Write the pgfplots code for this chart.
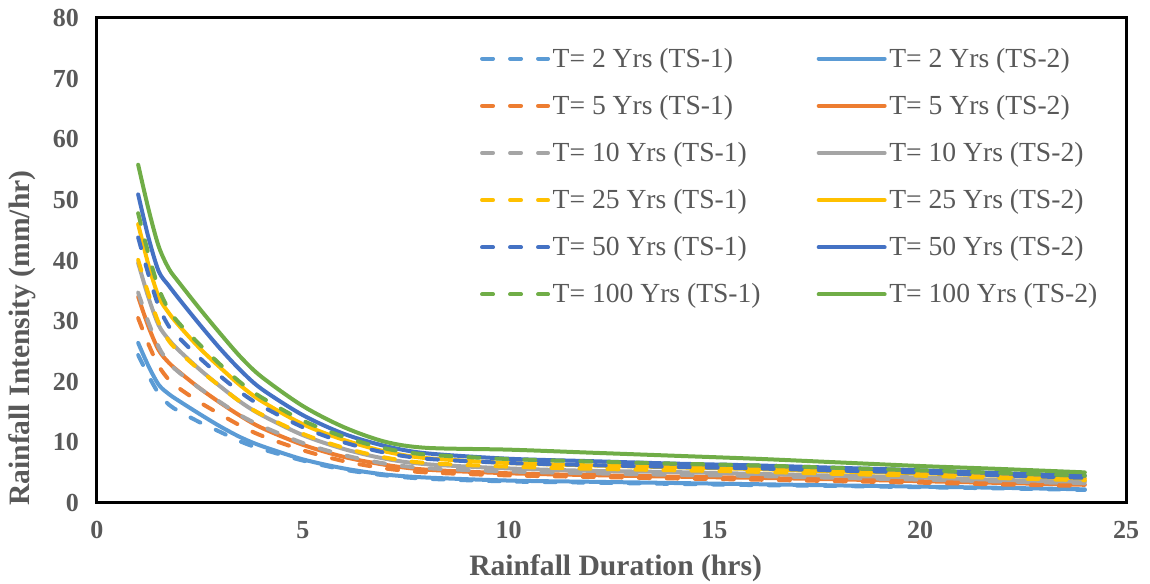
\documentclass[border=0pt]{standalone}
\usepackage{fontspec}
\setmainfont{Liberation Serif}
\usepackage{pgfplots}
\pgfplotsset{compat=1.18}

\definecolor{cA}{HTML}{5B9BD5}
\definecolor{cB}{HTML}{ED7D31}
\definecolor{cC}{HTML}{A5A5A5}
\definecolor{cD}{HTML}{FFC000}
\definecolor{cE}{HTML}{4472C4}
\definecolor{cF}{HTML}{70AD47}
\definecolor{txt}{HTML}{595959}

\begin{document}
\begin{tikzpicture}
\useasboundingbox (-72.75pt,-60.75pt) rectangle (789.75pt,377.25pt);
\begin{axis}[at={(0pt,0pt)},anchor=south west,
  width=771.75pt,height=363.75pt,scale only axis,
  axis lines=box,
  axis line style={line width=2.25pt,black},
  xmin=0,xmax=25,ymin=0,ymax=80,
  xtick={0,5,10,15,20,25},ytick={0,10,20,30,40,50,60,70,80},
  major tick length=0pt,
  /pgf/number format/assume math mode=true,
  ticklabel style={font=\fontsize{19.5}{22}\selectfont\bfseries,text=txt},
  yticklabel style={xshift=-10pt},
  xticklabel style={yshift=-10pt},
  xlabel={Rainfall Duration (hrs)},
  ylabel={Rainfall Intensity (mm/hr)},
  label style={font=\fontsize{22.2}{25}\selectfont\bfseries,text=txt},
  x label style={at={(axis description cs:0.504,-0.134)},anchor=center},
  y label style={at={(axis description cs:-0.0729,0.34)},anchor=center},
  every axis plot/.append style={line width=3pt,smooth,line cap=round,line join=round},
  legend columns=2,
  legend cell align=left,
  legend style={at={(rel axis cs:0.372,0.944)},anchor=north west,draw=none,fill=none,
    inner sep=0pt,font=\fontsize{20.7}{24}\selectfont,text=txt,row sep=15.5pt,
    /tikz/column 2/.style={column sep=40pt}},
  legend image code/.code={\draw[#1] (1.5pt,0pt) -- (51pt,0pt);},
  ]
\pgfplotsset{ts1/.style={dash pattern=on 8.25pt off 12.75pt}}
% T = 2
\addplot[cA,ts1] coordinates {(1,24.4)(1.25,21.0)(1.5,18.05)(1.75,16.2)(2,15.1)(2.5,13.3)(3,11.7)(3.5,10.1)(4,8.9)(5,7.0)(6,5.5)(7,4.55)(8,4.0)(10,3.55)(12,3.35)(14,3.15)(16,2.95)(18,2.8)(20,2.6)(22,2.4)(24,2.15)};
\addlegendentry{T= 2 Yrs (TS-1)}
\addplot[cA] coordinates {(1,26.4)(1.25,22.6)(1.5,19.5)(1.75,17.95)(2,16.8)(2.5,14.65)(3,12.6)(3.5,10.8)(4,9.4)(5,7.2)(6,5.7)(7,4.7)(8,4.2)(10,3.7)(12,3.5)(14,3.3)(16,3.1)(18,2.9)(20,2.7)(22,2.5)(24,2.25)};
\addlegendentry{T= 2 Yrs (TS-2)}
% T = 5
\addplot[cB,ts1] coordinates {(1,30.5)(1.25,26.2)(1.5,22.6)(1.75,20.3)(2,18.9)(2.5,16.6)(3,14.6)(3.5,12.7)(4,11.1)(5,8.7)(6,6.9)(7,5.7)(8,5.05)(10,4.55)(12,4.3)(14,4.05)(16,3.85)(18,3.6)(20,3.35)(22,3.05)(24,2.8)};
\addlegendentry{T= 5 Yrs (TS-1)}
\addplot[cB] coordinates {(1,34.0)(1.25,29.1)(1.5,25.2)(1.75,23.1)(2,21.6)(2.5,18.9)(3,16.5)(3.5,14.3)(4,12.4)(5,9.6)(6,7.6)(7,6.3)(8,5.5)(10,4.9)(12,4.6)(14,4.35)(16,4.15)(18,3.9)(20,3.6)(22,3.3)(24,3.0)};
\addlegendentry{T= 5 Yrs (TS-2)}
% T = 10
\addplot[cC,ts1] coordinates {(1,34.7)(1.25,29.8)(1.5,25.7)(1.75,23.1)(2,21.5)(2.5,18.9)(3,16.6)(3.5,14.4)(4,12.7)(5,9.9)(6,7.9)(7,6.5)(8,5.75)(10,5.2)(12,4.9)(14,4.65)(16,4.45)(18,4.15)(20,3.85)(22,3.55)(24,3.25)};
\addlegendentry{T= 10 Yrs (TS-1)}
\addplot[cC] coordinates {(1,39.6)(1.25,33.9)(1.5,29.3)(1.75,26.9)(2,25.1)(2.5,22.0)(3,19.2)(3.5,16.6)(4,14.5)(5,11.2)(6,8.9)(7,7.3)(8,6.4)(10,5.7)(12,5.3)(14,5.1)(16,4.8)(18,4.5)(20,4.2)(22,3.8)(24,3.5)};
\addlegendentry{T= 10 Yrs (TS-2)}
% T = 25
\addplot[cD,ts1] coordinates {(1,40.1)(1.25,34.5)(1.5,29.7)(1.75,26.7)(2,24.9)(2.5,21.9)(3,19.2)(3.5,16.6)(4,14.6)(5,11.4)(6,9.1)(7,7.5)(8,6.6)(10,6.0)(12,5.65)(14,5.4)(16,5.15)(18,4.8)(20,4.5)(22,4.1)(24,3.75)};
\addlegendentry{T= 25 Yrs (TS-1)}
\addplot[cD] coordinates {(1,46.0)(1.25,39.3)(1.5,34.0)(1.75,31.3)(2,29.2)(2.5,25.5)(3,22.3)(3.5,19.3)(4,16.8)(5,13.0)(6,10.4)(7,8.5)(8,7.4)(10,6.6)(12,6.2)(14,5.9)(16,5.6)(18,5.2)(20,4.9)(22,4.5)(24,4.05)};
\addlegendentry{T= 25 Yrs (TS-2)}
% T = 50
\addplot[cE,ts1] coordinates {(1,43.8)(1.25,37.7)(1.5,32.4)(1.75,29.1)(2,27.2)(2.5,23.9)(3,20.9)(3.5,18.2)(4,16.0)(5,12.5)(6,10.0)(7,8.3)(8,7.3)(10,6.6)(12,6.25)(14,5.95)(16,5.7)(18,5.35)(20,5.0)(22,4.55)(24,4.15)};
\addlegendentry{T= 50 Yrs (TS-1)}
\addplot[cE] coordinates {(1,50.9)(1.25,43.8)(1.5,38.2)(1.75,35.8)(2,33.6)(2.5,29.4)(3,25.4)(3.5,21.8)(4,18.8)(5,14.5)(6,11.4)(7,9.4)(8,8.2)(10,7.3)(12,6.9)(14,6.5)(16,6.2)(18,5.8)(20,5.4)(22,4.9)(24,4.5)};
\addlegendentry{T= 50 Yrs (TS-2)}
% T = 100
\addplot[cF,ts1] coordinates {(1,47.8)(1.25,41.1)(1.5,35.4)(1.75,31.8)(2,29.6)(2.5,26.1)(3,22.8)(3.5,19.8)(4,17.4)(5,13.6)(6,10.9)(7,9.0)(8,8.0)(10,7.25)(12,6.85)(14,6.5)(16,6.2)(18,5.8)(20,5.4)(22,4.95)(24,4.5)};
\addlegendentry{T= 100 Yrs (TS-1)}
\addplot[cF] coordinates {(1,55.8)(1.25,48.5)(1.5,42.3)(1.75,38.6)(2,36.3)(2.5,32.0)(3,27.9)(3.5,24.0)(4,20.8)(5,16.0)(6,12.5)(7,10.1)(8,9.1)(10,8.8)(12,8.3)(14,7.8)(16,7.3)(18,6.7)(20,6.1)(22,5.6)(24,5.05)};
\addlegendentry{T= 100 Yrs (TS-2)}
\end{axis}
\end{tikzpicture}
\end{document}
